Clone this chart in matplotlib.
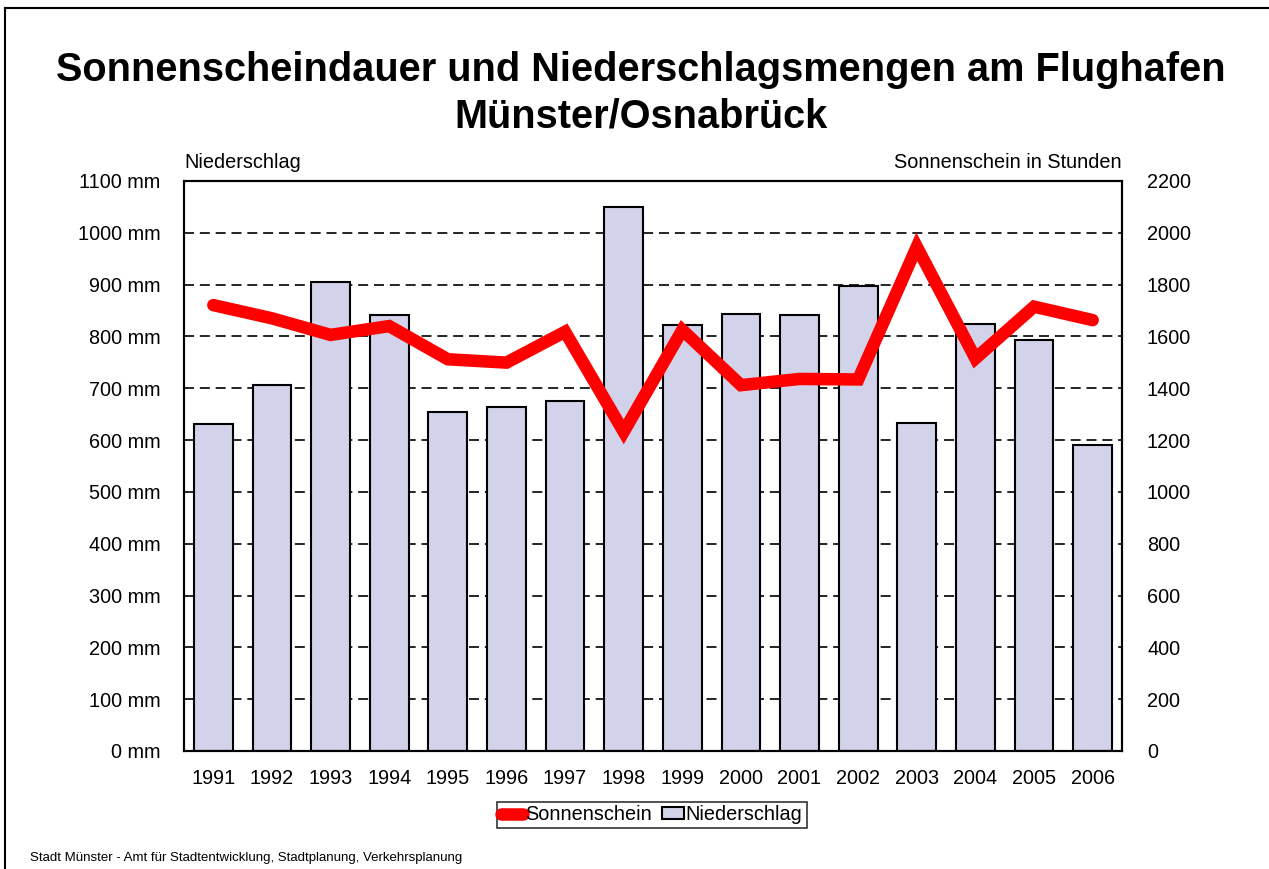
import matplotlib
matplotlib.use("Agg")
import matplotlib.pyplot as plt
from matplotlib.patches import Rectangle
from matplotlib.lines import Line2D

plt.rcParams['font.family'] = ['Liberation Sans', 'DejaVu Sans']

years = ['1991', '1992', '1993', '1994', '1995', '1996', '1997', '1998',
         '1999', '2000', '2001', '2002', '2003', '2004', '2005', '2006']
niederschlag = [631, 706, 906, 842, 655, 664, 676, 1050,
                823, 844, 841, 898, 633, 824, 794, 591]
sonnenschein = [1721, 1670, 1606, 1640, 1512, 1499, 1618, 1232,
                1625, 1412, 1436, 1434, 1946, 1515, 1715, 1663]
left_ticks = list(range(0, 1101, 100))
right_ticks = list(range(0, 2201, 200))

fig = plt.figure(figsize=(12.69, 8.69), dpi=100)
ax = fig.add_axes([184/1269, 1 - 751/869, (1122-184)/1269, (751-181)/869])
ax2 = ax.twinx()

x = list(range(len(years)))
ax.bar(x, niederschlag, width=0.66, color='#d2d2ea', edgecolor='black',
       linewidth=1.5, zorder=2)
ax.set_xlim(-0.5, len(years) - 0.5)
ax.set_ylim(0, 1100)
ax.set_yticks(left_ticks)
ax.set_yticklabels([f'{v} mm' for v in left_ticks])
ax.set_xticks(x)
ax.set_xticklabels(years)
ax.set_axisbelow(True)
ax.yaxis.grid(True, linestyle=(0, (6, 3.5)), color='black', linewidth=1.2)
ax.tick_params(axis='y', length=0, pad=17, labelsize=14.3)
ax.tick_params(axis='x', length=0, pad=13, labelsize=14.3)

ax2.plot(x, sonnenschein, color='#ff0000', linewidth=9,
         solid_capstyle='round', solid_joinstyle='miter', zorder=3)
ax2.set_ylim(0, 2200)
ax2.set_yticks(right_ticks)
ax2.set_yticklabels([str(v) for v in right_ticks])
ax2.tick_params(axis='y', length=0, pad=18, labelsize=14.3)

for a in (ax, ax2):
    for s in a.spines.values():
        s.set_linewidth(1.5)
        s.set_color('black')

fig.text(641/1269, 1 - 70/869, 'Sonnenscheindauer und Niederschlagsmengen am Flughafen',
         ha='center', va='center', fontsize=28.6, fontweight='bold')
fig.text(641/1269, 1 - 117/869, 'Münster/Osnabrück',
         ha='center', va='center', fontsize=28.6, fontweight='bold')

fig.text(184/1269, 1 - 163/869, 'Niederschlag', ha='left', va='center', fontsize=14.3)
fig.text(1122/1269, 1 - 163/869, 'Sonnenschein in Stunden', ha='right', va='center', fontsize=14.3)

fig.text(30/1269, 1 - 858/869, 'Stadt Münster - Amt für Stadtentwicklung, Stadtplanung, Verkehrsplanung',
         ha='left', va='center', fontsize=9.5)

# figure border (left and top)
fig.add_artist(Line2D([5/1269, 5/1269], [0, 1 - 8/869], transform=fig.transFigure,
                      color='black', linewidth=1.5))
fig.add_artist(Line2D([5/1269, 1], [1 - 8/869, 1 - 8/869], transform=fig.transFigure,
                      color='black', linewidth=1.5))

handles = [Line2D([0], [0], color='#ff0000', linewidth=9, solid_capstyle='round'),
           Rectangle((0, 0), 1, 1, facecolor='#d2d2ea', edgecolor='black', linewidth=1.5)]
leg = fig.legend(handles, ['Sonnenschein', 'Niederschlag'], loc='center',
                 bbox_to_anchor=(652/1269, 1 - 815/869), ncol=2, fontsize=14.3,
                 frameon=True, fancybox=False, shadow=False, handlelength=1.1,
                 handletextpad=0.1, columnspacing=0.5, borderpad=0.2,
                 handleheight=0.55, borderaxespad=0)
leg.get_frame().set_edgecolor('black')
leg.get_frame().set_linewidth(1.2)

fig.savefig('out.png', dpi=100)
